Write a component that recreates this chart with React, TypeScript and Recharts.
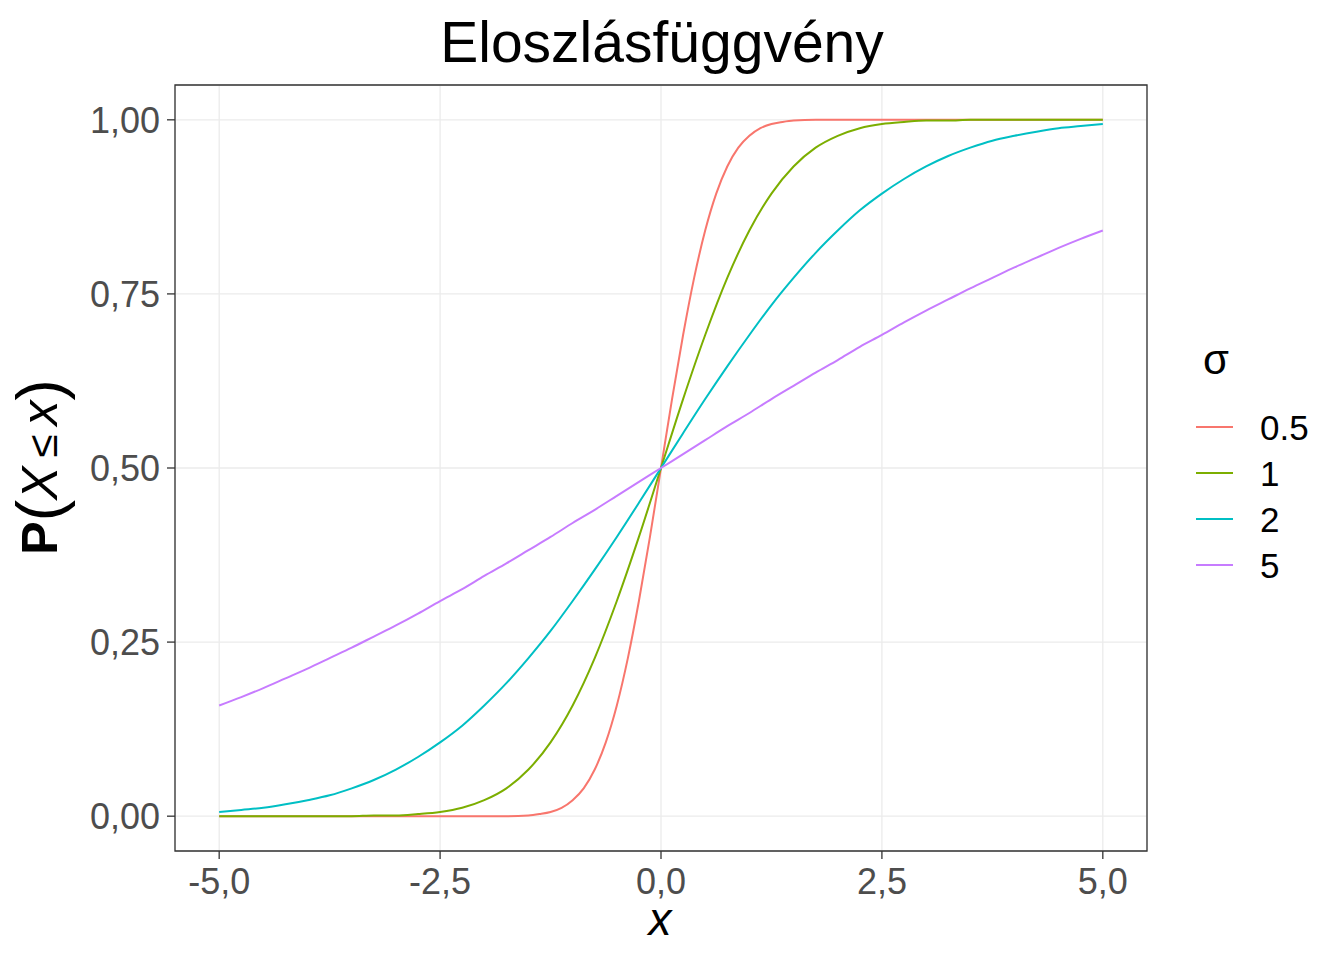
import { LineChart, Line, XAxis, YAxis, CartesianGrid, ReferenceArea } from "recharts";

// x grid the wider curves were read at
const xValues = [
  -5, -4.75, -4.5, -4.25, -4, -3.75, -3.5, -3.25, -3, -2.75, -2.5, -2.25, -2, -1.75, -1.5, -1.25, -1, -0.75, -0.5, -0.25,
  0, 0.25, 0.5, 0.75, 1, 1.25, 1.5, 1.75, 2, 2.25, 2.5, 2.75, 3, 3.25, 3.5, 3.75, 4, 4.25, 4.5, 4.75, 5,
];
// the steep sigma = 0.5 curve needs a finer grid near 0
const xValues05 = [
  -5, -4, -3, -2.5, -2, -1.75, -1.5, -1.375, -1.25, -1.125, -1, -0.875, -0.75, -0.625, -0.5, -0.375, -0.25, -0.125,
  0, 0.125, 0.25, 0.375, 0.5, 0.625, 0.75, 0.875, 1, 1.125, 1.25, 1.375, 1.5, 1.75, 2, 2.5, 3, 4, 5,
];

const sigma05 = [
  0, 0, 0, 0, 0, 0, 0.001, 0.003, 0.006, 0.012, 0.023, 0.04, 0.067, 0.106, 0.159, 0.227, 0.309, 0.401,
  0.5, 0.599, 0.691, 0.773, 0.841, 0.894, 0.933, 0.96, 0.977, 0.988, 0.994, 0.997, 0.999, 1, 1, 1, 1, 1, 1,
];
const sigma1 = [
  0, 0, 0, 0, 0, 0, 0, 0.001, 0.001, 0.003, 0.006, 0.012, 0.023, 0.04, 0.067, 0.106, 0.159, 0.227, 0.309, 0.401,
  0.5, 0.599, 0.691, 0.773, 0.841, 0.894, 0.933, 0.96, 0.977, 0.988, 0.994, 0.997, 0.999, 0.999, 1, 1, 1, 1, 1, 1, 1,
];
const sigma2 = [
  0.006, 0.009, 0.012, 0.017, 0.023, 0.03, 0.04, 0.052, 0.067, 0.085, 0.106, 0.13, 0.159, 0.191, 0.227, 0.266, 0.309, 0.354, 0.401, 0.45,
  0.5, 0.55, 0.599, 0.646, 0.691, 0.734, 0.773, 0.809, 0.841, 0.87, 0.894, 0.915, 0.933, 0.948, 0.96, 0.97, 0.977, 0.983, 0.988, 0.991, 0.994,
];
const sigma5 = [
  0.159, 0.171, 0.184, 0.198, 0.212, 0.227, 0.242, 0.258, 0.274, 0.291, 0.309, 0.326, 0.345, 0.363, 0.382, 0.401, 0.421, 0.44, 0.46, 0.48,
  0.5, 0.52, 0.54, 0.56, 0.579, 0.599, 0.618, 0.637, 0.655, 0.674, 0.691, 0.709, 0.726, 0.742, 0.758, 0.773, 0.788, 0.802, 0.816, 0.829, 0.841,
];

const series = [
  { key: "s05", label: "0.5", color: "#F8766D", xs: xValues05, values: sigma05 },
  { key: "s1", label: "1", color: "#7CAE00", xs: xValues, values: sigma1 },
  { key: "s2", label: "2", color: "#00BFC4", xs: xValues, values: sigma2 },
  { key: "s5", label: "5", color: "#C77CFF", xs: xValues, values: sigma5 },
];

const xTicks = [-5, -2.5, 0, 2.5, 5];
const xMinorTicks = [-3.75, -1.25, 1.25, 3.75];
const yTicks = [0, 0.25, 0.5, 0.75, 1];
const yMinorTicks = [0.125, 0.375, 0.625, 0.875];

const font = "'Liberation Sans', Arial, sans-serif";
const xDomain = [-5.5, 5.5];
const yDomain = [-0.05, 1.05];

export default function App() {
  return (
    <div style={{ position: "absolute", left: 0, top: 0, width: 1344, height: 960, background: "#fff", fontFamily: font }}>
      <LineChart width={1344} height={960} margin={{ top: 85, right: 197, bottom: 0, left: 0 }}>
        <XAxis xAxisId="minor" dataKey="x" type="number" domain={xDomain} ticks={xMinorTicks} hide />
        <YAxis yAxisId="minor" type="number" domain={yDomain} ticks={yMinorTicks} hide />
        <CartesianGrid xAxisId="minor" yAxisId="minor" stroke="#F2F2F2" strokeWidth={1} />
        <CartesianGrid stroke="#EBEBEB" strokeWidth={1.3} />
        <XAxis
          dataKey="x"
          type="number"
          domain={xDomain}
          ticks={xTicks}
          tickFormatter={(v: number) => v.toFixed(1).replace(".", ",")}
          tick={{ fill: "#4D4D4D", fontSize: 36, fontFamily: font }}
          tickLine={{ stroke: "#333333", strokeWidth: 1.3 }}
          tickSize={8}
          tickMargin={9}
          axisLine={false}
          height={109}
        />
        <YAxis
          type="number"
          domain={yDomain}
          ticks={yTicks}
          tickFormatter={(v: number) => v.toFixed(2).replace(".", ",")}
          tick={{ fill: "#4D4D4D", fontSize: 36, fontFamily: font }}
          tickLine={{ stroke: "#333333", strokeWidth: 1.3 }}
          tickSize={8}
          tickMargin={7}
          axisLine={false}
          width={175}
        />
        {series.map((s) => (
          <Line
            key={s.key}
            data={s.xs.map((x, i) => ({ x, y: s.values[i] }))}
            dataKey="y"
            name={s.label}
            type="monotone"
            stroke={s.color}
            strokeWidth={2}
            dot={false}
            isAnimationActive={false}
          />
        ))}
        <ReferenceArea
          x1={xDomain[0]}
          x2={xDomain[1]}
          y1={yDomain[0]}
          y2={yDomain[1]}
          fill="none"
          stroke="#333333"
          strokeWidth={1.3}
          fillOpacity={0}
        />
      </LineChart>

      {/* titles and legend */}
      <svg width={1344} height={960} style={{ position: "absolute", left: 0, top: 0, pointerEvents: "none" }}>
        <text x={662} y={62} textAnchor="middle" fontSize={57} fontFamily={font} fill="#000">
          Eloszlásfüggvény
        </text>
        <text x={660} y={935} textAnchor="middle" fontSize={46} fontFamily={font} fontStyle="italic" fill="#000">
          x
        </text>
        <text transform="translate(57,467) rotate(-90)" textAnchor="middle" fontFamily={font} fill="#000">
          <tspan fontSize={50} fontWeight="bold">P</tspan>
          <tspan fontSize={64} dy={5}>(</tspan>
          <tspan fontSize={50} fontStyle="italic" dy={-5}>X</tspan>
          <tspan fontSize={42} dx={9}>≤</tspan>
          <tspan fontSize={50} fontStyle="italic" dx={9}>x</tspan>
          <tspan fontSize={64} dy={5}>)</tspan>
        </text>
        <text x={1203} y={374} fontSize={42} fontFamily={font} fill="#000">
          σ
        </text>
        {series.map((s, i) => (
          <g key={s.key}>
            <line x1={1196} x2={1233} y1={427 + i * 46} y2={427 + i * 46} stroke={s.color} strokeWidth={2} />
            <text x={1260} y={440 + i * 46} fontSize={35} fontFamily={font} fill="#000">
              {s.label}
            </text>
          </g>
        ))}
      </svg>
    </div>
  );
}
